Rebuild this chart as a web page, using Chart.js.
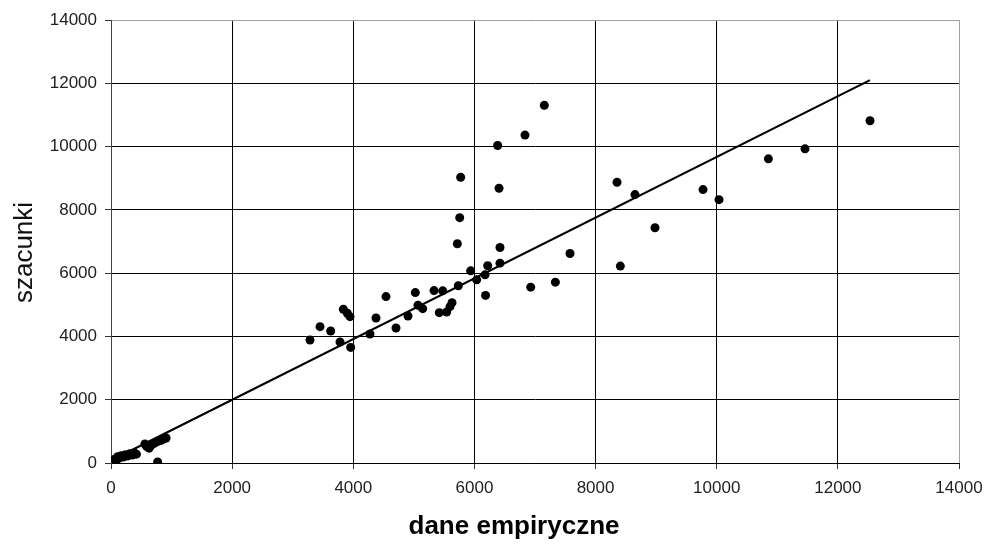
<!DOCTYPE html>
<html>
<head>
<meta charset="utf-8">
<script src="https://cdn.jsdelivr.net/npm/chart.js@4"></script>
<style>
  body { margin: 0; background: #fff; }
  #wrap { position: relative; width: 984px; height: 544px; }
</style>
</head>
<body>
<div id="wrap"><canvas id="scatterChart"></canvas></div>
<script>
// dane empiryczne (x) vs szacunki (y)
const empX = [
  0, 30, 60, 90, 110, 140, 170, 200, 240, 270, 310, 350, 390, 420,
  560, 590, 630, 660, 700, 740, 780, 830, 880, 910, 770,
  3285, 3451, 3627, 3781, 3836, 3902, 3946, 3957, 4276, 4375, 4540, 4705, 4903,
  5024, 5068, 5146, 5333, 5476, 5420, 5542, 5597, 5630, 5734, 5938, 6037, 6175,
  6183, 5773, 5757, 5718, 6384, 6406, 6835, 7154, 6422, 6422, 6219, 6929, 7336, 7578,
  8354, 8651, 8981, 8409, 9774, 10038, 10853, 11458, 12531
];
const estY = [
  20, 60, 120, 90, 200, 160, 230, 190, 260, 220, 290, 250, 310, 280,
  600, 520, 470, 560, 610, 650, 690, 720, 770, 790, 30,
  3886, 4308, 4171, 3823, 4859, 4732, 4625, 3654, 4076, 4583, 5258, 4266, 4647,
  5385, 4985, 4878, 5448, 5440, 4751, 4773, 4941, 5068, 5600, 6073, 5788, 5946,
  5296, 9030, 7753, 6929, 10035, 8682, 10362, 11303, 6812, 6316, 6232, 5556, 5715, 6622,
  8872, 8482, 7436, 6222, 8640, 8323, 9613, 9929, 10817
];

// linia trendu
const trendX = [0, 12530];
const trendY = [80, 12100];

const tickValues = [0, 2000, 4000, 6000, 8000, 10000, 12000, 14000];
const xTitle = "dane empiryczne";
const yTitle = "szacunki";

const FONT = "'Liberation Sans', Arial, Helvetica, sans-serif";

const points = empX.map((x, i) => ({ x: x, y: estY[i] }));
const trend = trendX.map((x, i) => ({ x: x, y: trendY[i] }));

// axis titles, Excel puts them a bit off-centre
const axisTitles = {
  id: "axisTitles",
  afterDraw(chart) {
    const { ctx, chartArea } = chart;
    ctx.save();
    ctx.fillStyle = "#000";
    ctx.textAlign = "center";
    ctx.textBaseline = "middle";
    ctx.font = "bold 26px " + FONT;
    ctx.fillText(xTitle, (chartArea.left + chartArea.right) / 2 - 21, 527);
    ctx.translate(25, (chartArea.top + chartArea.bottom) / 2 + 11);
    ctx.rotate(-Math.PI / 2);
    ctx.font = "26px " + FONT;
    ctx.fillStyle = "#111";
    ctx.fillText(yTitle, 0, 0);
    ctx.restore();
  },
};

const gridColor = (c) => (c.tick && c.tick.value === 14000 ? "#a0a0a0" : "#000");

const ctx = document.getElementById("scatterChart").getContext("2d");
new Chart(ctx, {
  type: "scatter",
  data: {
    datasets: [
      {
        label: "szacunki",
        data: points,
        backgroundColor: "#000",
        borderColor: "#000",
        borderWidth: 0,
        pointRadius: 4.5,
        pointStyle: "circle",
      },
      {
        type: "line",
        label: "trend",
        data: trend,
        borderColor: "#000",
        borderWidth: 2.2,
        pointRadius: 0,
        fill: false,
      },
    ],
  },
  options: {
    responsive: true,
    maintainAspectRatio: false,
    animation: false,
    layout: { padding: { top: 20, right: 25, left: 0, bottom: 0 } },
    plugins: {
      legend: { display: false },
      tooltip: { enabled: false },
    },
    scales: {
      x: {
        type: "linear",
        min: 0,
        max: 14000,
        afterBuildTicks: (s) => { s.ticks = tickValues.map((v) => ({ value: v })); },
        afterFit: (s) => { s.height = 81; s.paddingLeft = 0; s.paddingRight = 0; },
        ticks: {
          color: "#222",
          padding: 9,
          font: { size: 17, family: FONT },
          callback: (v) => String(v),
        },
        grid: { color: gridColor, tickColor: "#333", tickLength: 6, lineWidth: 1 },
        border: { color: "#000", width: 1 },
      },
      y: {
        type: "linear",
        min: 0,
        max: 14000,
        afterBuildTicks: (s) => { s.ticks = tickValues.map((v) => ({ value: v })); },
        afterFit: (s) => { s.width = 111; s.paddingTop = 0; s.paddingBottom = 0; },
        ticks: {
          color: "#222",
          padding: 8,
          font: { size: 17, family: FONT },
          callback: (v) => String(v),
        },
        grid: { color: gridColor, tickColor: "#333", tickLength: 6, lineWidth: 1 },
        border: { color: "#444", width: 1 },
      },
    },
  },
  plugins: [axisTitles],
});
</script>
</body>
</html>
